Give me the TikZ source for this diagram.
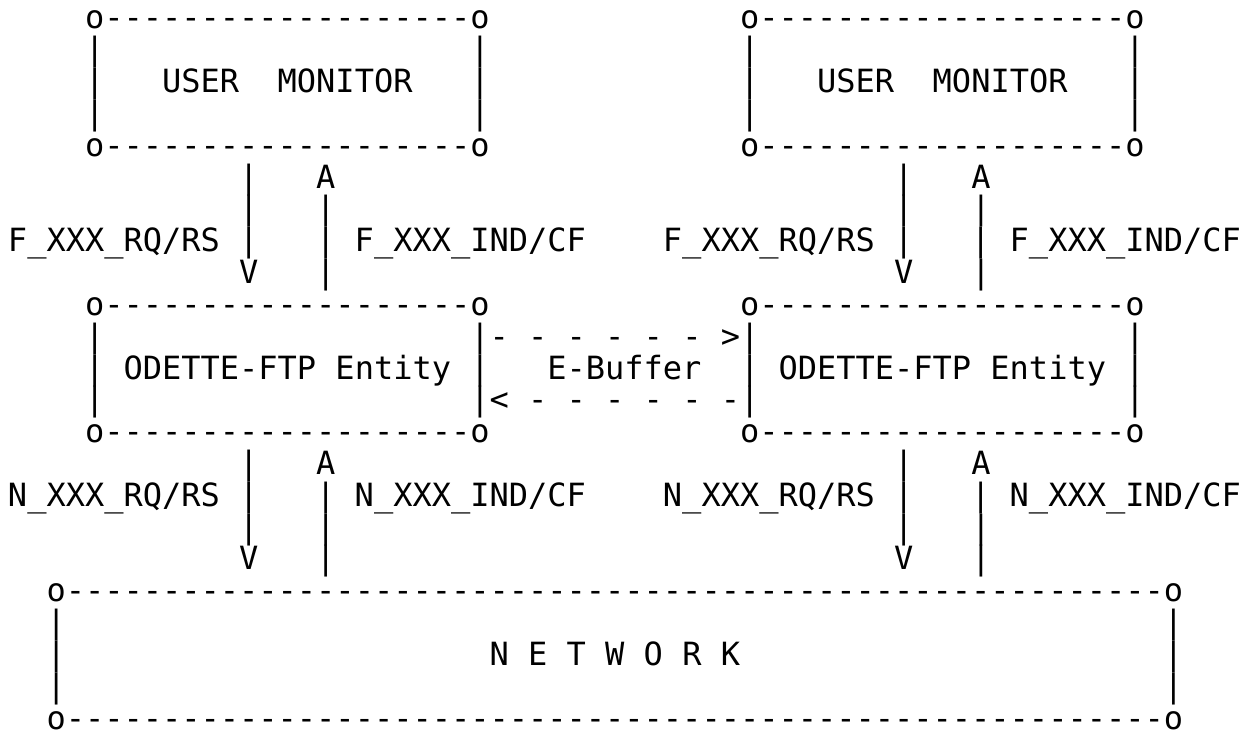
\documentclass[tikz,border=0pt]{standalone}
\usepackage{fontspec}
\setmonofont{DejaVu Sans Mono}
\ExplSyntaxOn
\NewDocumentCommand\rep{mm}{\prg_replicate:nn{#1}{#2}}
\ExplSyntaxOff
\newcommand\asciifont{\ttfamily\fontsize{32}{32}\selectfont}
\tikzset{asciirow/.style={anchor=base west, inner sep=0pt, outer sep=0pt, font=\asciifont, text=black}}
\begin{document}
\begin{tikzpicture}[x=1pt,y=1pt]
\fill[white] (0,0) rectangle (1254,-735);
\useasboundingbox (0,0) rectangle (1254,-735);
% top boxes
\node[asciirow] (r0) at (8,-29) {\rep{4}{\ }o\rep{19}{-}o\rep{13}{\ }o\rep{19}{-}o};
\node[asciirow] (r1) at (8,-60.82) {\rep{4}{\ }|\rep{19}{\ }|\rep{13}{\ }|\rep{19}{\ }|};
\node[asciirow] (r2) at (8,-92.64) {\rep{4}{\ }|\rep{3}{\ }USER\rep{2}{\ }MONITOR\rep{3}{\ }|\rep{13}{\ }|\rep{3}{\ }USER\rep{2}{\ }MONITOR\rep{3}{\ }|};
\node[asciirow] (r3) at (8,-124.46) {\rep{4}{\ }|\rep{19}{\ }|\rep{13}{\ }|\rep{19}{\ }|};
\node[asciirow] (r4) at (8,-156.28) {\rep{4}{\ }o\rep{19}{-}o\rep{13}{\ }o\rep{19}{-}o};
% F primitives
\node[asciirow] (r5) at (8,-188.1) {\rep{12}{\ }|\rep{3}{\ }A\rep{29}{\ }|\rep{3}{\ }A};
\node[asciirow] (r6) at (8,-219.92) {\rep{12}{\ }|\rep{3}{\ }|\rep{29}{\ }|\rep{3}{\ }|};
\node[asciirow] (r7) at (8,-251.74) {F\_XXX\_RQ/RS\ |\rep{3}{\ }|\ F\_XXX\_IND/CF\rep{4}{\ }F\_XXX\_RQ/RS\ |\rep{3}{\ }|\ F\_XXX\_IND/CF};
\node[asciirow] (r8) at (8,-283.56) {\rep{12}{\ }V\rep{3}{\ }|\rep{29}{\ }V\rep{3}{\ }|};
% entities
\node[asciirow] (r9) at (8,-315.38) {\rep{4}{\ }o\rep{19}{-}o\rep{13}{\ }o\rep{19}{-}o};
\node[asciirow] (r10) at (8,-347.2) {\rep{4}{\ }|\rep{19}{\ }|-\ -\ -\ -\ -\ -\ >|\rep{19}{\ }|};
\node[asciirow] (r11) at (8,-379.02) {\rep{4}{\ }|\ ODETTE-FTP\ Entity\ |\rep{3}{\ }E-Buffer\rep{2}{\ }|\ ODETTE-FTP\ Entity\ |};
\node[asciirow] (r12) at (8,-410.84) {\rep{4}{\ }|\rep{19}{\ }|<\ -\ -\ -\ -\ -\ -|\rep{19}{\ }|};
\node[asciirow] (r13) at (8,-442.66) {\rep{4}{\ }o\rep{19}{-}o\rep{13}{\ }o\rep{19}{-}o};
% N primitives
\node[asciirow] (r14) at (8,-474.48) {\rep{12}{\ }|\rep{3}{\ }A\rep{29}{\ }|\rep{3}{\ }A};
\node[asciirow] (r15) at (8,-506.3) {N\_XXX\_RQ/RS\ |\rep{3}{\ }|\ N\_XXX\_IND/CF\rep{4}{\ }N\_XXX\_RQ/RS\ |\rep{3}{\ }|\ N\_XXX\_IND/CF};
\node[asciirow] (r16) at (8,-538.12) {\rep{12}{\ }|\rep{3}{\ }|\rep{29}{\ }|\rep{3}{\ }|};
\node[asciirow] (r17) at (8,-569.94) {\rep{12}{\ }V\rep{3}{\ }|\rep{29}{\ }V\rep{3}{\ }|};
% network
\node[asciirow] (r18) at (8,-601.76) {\rep{2}{\ }o\rep{57}{-}o};
\node[asciirow] (r19) at (8,-633.58) {\rep{2}{\ }|\rep{57}{\ }|};
\node[asciirow] (r20) at (8,-665.4) {\rep{2}{\ }|\rep{22}{\ }N\ E\ T\ W\ O\ R\ K\rep{22}{\ }|};
\node[asciirow] (r21) at (8,-697.22) {\rep{2}{\ }|\rep{57}{\ }|};
\node[asciirow] (r22) at (8,-729.04) {\rep{2}{\ }o\rep{57}{-}o};
\end{tikzpicture}
\end{document}
